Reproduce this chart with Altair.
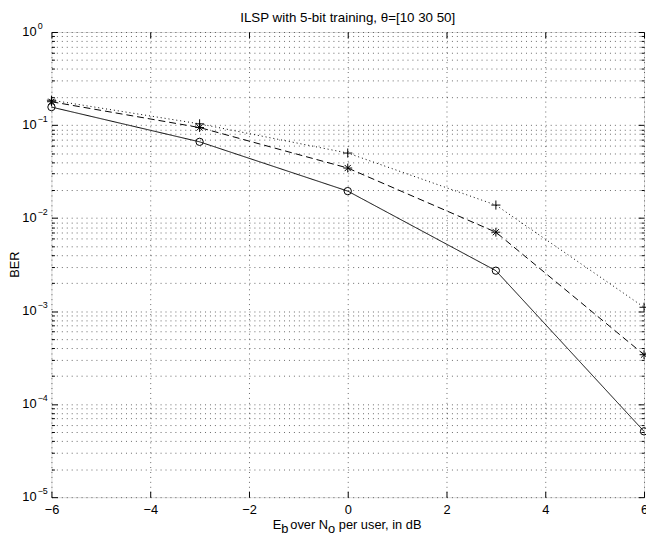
import altair as alt
import pandas as pd

# ---- data ----
x_vals = [-6, -3, 0, 3, 6]
ber_solid = [0.156, 0.066, 0.0195, 0.00272, 5.1e-5]
ber_dashed = [0.178, 0.094, 0.0345, 0.00705, 3.4e-4]
ber_dotted = [0.185, 0.103, 0.050, 0.0138, 1.1e-3]
series_names = ["solid", "dashed", "dotted"]

x_ticks = [-6, -4, -2, 0, 2, 4, 6]
y_major = [1e-5, 1e-4, 1e-3, 1e-2, 1e-1, 1e0]
y_exps = ["\u22125", "\u22124", "\u22123", "\u22122", "\u22121", "0"]
y_minor = [m * 10.0 ** e for e in range(-5, 0) for m in range(2, 10)]

title_text = "ILSP with 5-bit training, \u03b8=[10 30 50]"
ylabel_text = "BER"

rows = []
for name, vals in zip(series_names, [ber_solid, ber_dashed, ber_dotted]):
    for xv, bv in zip(x_vals, vals):
        rows.append({"x": xv, "ber": bv, "series": name})
df = pd.DataFrame(rows)
df_ylab = pd.DataFrame({"val": y_major, "base": ["10"] * len(y_major), "exp": y_exps})

W, H = 600, 471
FONT = "Liberation Sans"
xscale = alt.Scale(domain=[-6, 6], nice=False, zero=False)
yscale = alt.Scale(type="log", domain=[1e-5, 1], nice=False)
grid_style = dict(gridDash=[1, 4], gridColor="black", gridOpacity=0.6, gridWidth=1)

base = alt.Chart(df)

lines = base.mark_line(color="black", strokeWidth=1).encode(
    x=alt.X("x:Q", scale=xscale, axis=alt.Axis(
        orient="bottom", values=x_ticks, grid=True, ticks=False, tickSize=0, domain=False,
        labels=True, title=None, labelFontSize=13, labelPadding=7, labelColor="black",
        labelFont=FONT, labelFlush=False, **grid_style)),
    y=alt.Y("ber:Q", scale=yscale, axis=alt.Axis(
        orient="left", values=y_major + y_minor, grid=True, ticks=False, domain=False,
        labels=False, title=None, **grid_style)),
    strokeDash=alt.StrokeDash("series:N", scale=alt.Scale(
        domain=series_names, range=[[1, 0], [7, 4], [1, 3]]), legend=None),
    detail="series:N",
)

star = "M-1,0L1,0M0,-1L0,1M-0.7,-0.7L0.7,0.7M-0.7,0.7L0.7,-0.7"
plus = "M-1,0L1,0M0,-1L0,1"
marker_specs = [("solid", "circle", 55), ("dashed", star, 80), ("dotted", plus, 85)]
marker_layers = []
for name, shp, sz in marker_specs:
    marker_layers.append(
        base.transform_filter(alt.datum.series == name)
        .mark_point(shape=shp, size=sz, filled=False, color="black", strokeWidth=1, opacity=1)
        .encode(x=alt.X("x:Q", scale=xscale, axis=None),
                y=alt.Y("ber:Q", scale=yscale, axis=None))
    )


def tick_layer(channel, orient, values, size):
    ax = alt.Axis(orient=orient, values=values, offset=-(H if channel == "x" else W),
                  ticks=True, tickSize=size, tickColor="black", tickWidth=1,
                  labels=False, domain=False, grid=False, title=None)
    if channel == "x":
        enc = dict(x=alt.X("x:Q", scale=xscale, axis=ax),
                   y=alt.Y("ber:Q", scale=yscale, axis=None))
    else:
        enc = dict(x=alt.X("x:Q", scale=xscale, axis=None),
                   y=alt.Y("ber:Q", scale=yscale, axis=ax))
    return base.mark_point(opacity=0).encode(**enc)


tick_layers = [
    tick_layer("x", "top", x_ticks, 6),
    tick_layer("x", "bottom", x_ticks, 6),
    tick_layer("y", "right", y_major, 6),
    tick_layer("y", "right", y_minor, 3),
    tick_layer("y", "left", y_major, 6),
    tick_layer("y", "left", y_minor, 3),
]

ylab_base = alt.Chart(df_ylab).mark_text(
    align="right", baseline="middle", dx=-15, fontSize=13, font=FONT, color="black"
).encode(x=alt.value(0), y=alt.Y("val:Q", scale=yscale, axis=None), text="base:N")
ylab_exp = alt.Chart(df_ylab).mark_text(
    align="left", baseline="middle", dx=-14, dy=-6, fontSize=9, font=FONT, color="black"
).encode(x=alt.value(0), y=alt.Y("val:Q", scale=yscale, axis=None), text="exp:N")

ber_label = alt.Chart(pd.DataFrame({"t": [ylabel_text]})).mark_text(
    angle=270, align="center", baseline="middle", fontSize=13, font=FONT, color="black"
).encode(x=alt.value(-37), y=alt.value(H / 2), text="t:N")

# x-axis title with subscripts: E_b over N_o per user, in dB
xtitle_parts = [("E", -76, 0), ("b", -67.3, 4), ("over N", -58.2, 0), ("o", -19.9, 4),
                ("per user, in dB", -9.1, 0)]
xtitle_layers = []
for txt, dx, dy in xtitle_parts:
    xtitle_layers.append(
        alt.Chart(pd.DataFrame({"t": [txt]})).mark_text(
            align="left", baseline="alphabetic", dx=dx, dy=dy, fontSize=13, font=FONT,
            color="black"
        ).encode(x=alt.XDatum(0, scale=xscale, axis=None),
                 y=alt.value(H + 32), text="t:N")
    )

chart = alt.layer(
    lines, *marker_layers, *tick_layers, ylab_base, ylab_exp, ber_label, *xtitle_layers
).resolve_axis(x="independent", y="independent").properties(
    width=W, height=H,
    padding={"left": 44, "top": 21, "right": 2, "bottom": 36},
    autosize=alt.AutoSizeParams(type="none"),
    title=alt.Title(title_text, fontSize=13.5, font=FONT, fontWeight="normal", color="black",
                    offset=-2, anchor="middle"),
).configure_view(stroke="black", strokeWidth=1).configure(font=FONT, background="white")

chart.save("out.html", embed_options={"renderer": "svg", "actions": False})
